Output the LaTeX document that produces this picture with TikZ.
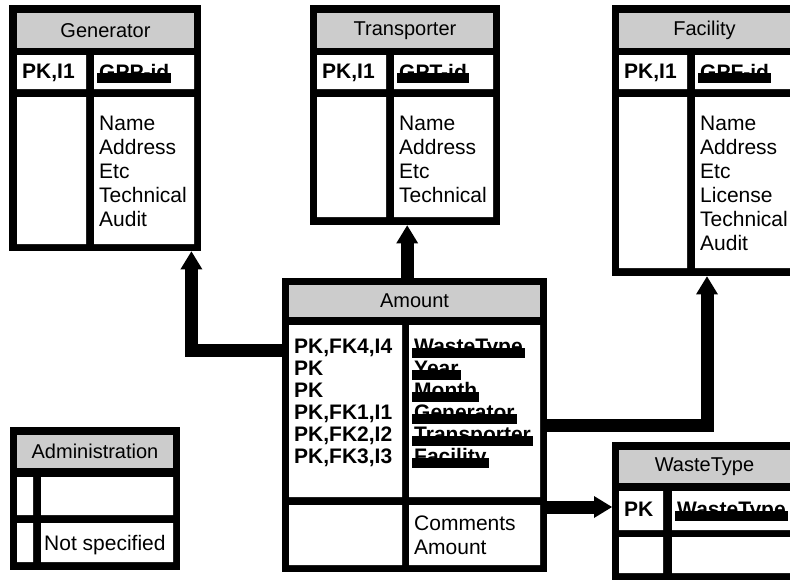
\documentclass[tikz,border=0pt]{standalone}
\usepackage{fontspec}
\setmainfont{Liberation Sans}
\usetikzlibrary{arrows.meta}
\definecolor{hdrgray}{RGB}{204,204,204}
\newcommand{\keyfield}[1]{\sbox0{\bfseries #1}\rlap{\usebox0}\kern-2pt\rule[-4pt]{\dimexpr\wd0+4pt\relax}{10pt}\kern-2pt}
\tikzset{
  tabframe/.style={fill=black,inner sep=0pt,anchor=north west},
  hdrcell/.style={fill=hdrgray},
  cell/.style={fill=white},
  hdrtext/.style={font=\fontsize{20}{24}\selectfont,inner sep=0pt},
  txt/.style={font=\fontsize{21}{24}\selectfont,align=left,anchor=north west,inner sep=0pt},
  keytxt/.style={txt,font=\fontsize{21}{22}\selectfont\bfseries},
  fk/.style={line width=13pt,-{Triangle[width=22pt,length=18pt,line width=0pt]}}
}

\begin{document}
\begin{tikzpicture}[x=1pt,y=-1pt]
\useasboundingbox (0,0) rectangle (790,582);
\clip (0,0) rectangle (790,582);
% Generator
\node[tabframe,minimum width=192pt,minimum height=246pt] (gen) at (9,5) {};
\fill[hdrcell] (17,13) rectangle (194,48);
\fill[cell] (17,55) rectangle (86,89) (94,55) rectangle (194,89);
\fill[cell] (17,97) rectangle (86,244) (94,97) rectangle (194,244);
\node[hdrtext] (genhdr) at (105.5,30.5) {Generator};
\node[keytxt] (genkey) at (22,64) {PK,I1};
\node[txt] (genid) at (99,64) {\keyfield{GPP-id}};
\node[txt] (genfld) at (99,116) {Name\\Address\\Etc\\Technical\\Audit};
% Transporter
\node[tabframe,minimum width=190pt,minimum height=220pt] (tr) at (310,5) {};
\fill[hdrcell] (317,13) rectangle (493,48);
\fill[cell] (317,55) rectangle (386,89) (394,55) rectangle (493,89);
\fill[cell] (317,97) rectangle (386,217) (394,97) rectangle (493,217);
\node[hdrtext] (trhdr) at (405,30.5) {Transporter};
\node[keytxt] (trkey) at (322,64) {PK,I1};
\node[txt] (trid) at (399,64) {\keyfield{GPT-id}};
\node[txt] (trfld) at (399,116) {Name\\Address\\Etc\\Technical};
% Facility
\node[tabframe,minimum width=185pt,minimum height=271pt] (fac) at (612,5) {};
\fill[hdrcell] (619,13) rectangle (790,48);
\fill[cell] (619,55) rectangle (687,89) (695,55) rectangle (790,89);
\fill[cell] (619,97) rectangle (687,268) (695,97) rectangle (790,268);
\node[hdrtext] (fachdr) at (704.5,30.5) {Facility};
\node[keytxt] (fackey) at (624,64) {PK,I1};
\node[txt] (facid) at (700,64) {\keyfield{GPF-id}};
\node[txt] (facfld) at (700,116) {Name\\Address\\Etc\\License\\Technical\\Audit};
% Amount
\node[tabframe,minimum width=265pt,minimum height=294pt] (am) at (282,278) {};
\fill[hdrcell] (289,285) rectangle (540,317);
\fill[cell] (289,325) rectangle (402,497) (409,325) rectangle (540,497);
\fill[cell] (289,505) rectangle (402,565) (409,505) rectangle (540,565);
\node[hdrtext] (amhdr) at (414.5,301) {Amount};
\node[keytxt] (amkey) at (294,339) {PK,FK4,I4\\PK\\PK\\PK,FK1,I1\\PK,FK2,I2\\PK,FK3,I3};
\node[keytxt] (amid) at (414,339) {\keyfield{WasteType}\\\keyfield{Year}\\\keyfield{Month}\\\keyfield{Generator}\\\keyfield{Transporter}\\\keyfield{Facility}};
\node[txt] (amfld) at (414,516) {Comments\\Amount};
% Administration
\node[tabframe,minimum width=170pt,minimum height=143pt] (adm) at (10,427) {};
\fill[hdrcell] (17,435) rectangle (173,468);
\fill[cell] (17,477) rectangle (33,515) (41,477) rectangle (173,515);
\fill[cell] (17,523) rectangle (33,562) (41,523) rectangle (173,562);
\node[hdrtext] (admhdr) at (95,451.5) {Administration};
\node[txt] (admfld) at (44,535) {Not specified};
% WasteType
\node[tabframe,minimum width=185pt,minimum height=138pt] (wt) at (612,442) {};
\fill[hdrcell] (619,450) rectangle (790,483);
\fill[cell] (619,491) rectangle (663,530) (672,491) rectangle (790,530);
\fill[cell] (619,537) rectangle (663,573) (672,537) rectangle (790,573);
\node[hdrtext] (wthdr) at (704.5,466.5) {WasteType};
\node[keytxt] (wtkey) at (624,502) {PK};
\node[txt] (wtid) at (677,502) {\keyfield{WasteType}};
% relations
\coordinate (amgen) at ([yshift=-72pt]am.north west);
\draw[fk] (amgen) -| ([xshift=-10pt]gen.south east);
\coordinate (trin) at ([xshift=2pt]tr.south);
\draw[fk] (am.north -| trin) -- (trin);
\coordinate (amfac) at ([yshift=-147pt]am.north east);
\coordinate (facin) at ([xshift=95pt]fac.south west);
\draw[fk] (amfac) -| (facin);
\coordinate (amwt) at ([yshift=-229pt]am.north east);
\draw[fk] (amwt) -- (amwt -| wt.west);
\end{tikzpicture}
\end{document}
